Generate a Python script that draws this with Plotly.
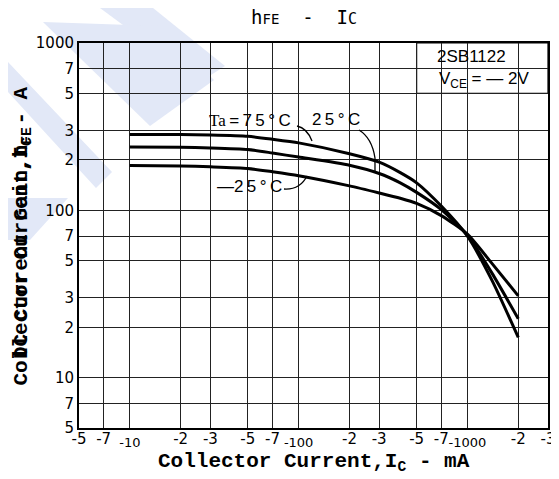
import numpy as np
import plotly.graph_objects as go

# ---------------- data ----------------
ic_ma = [10, 20, 30, 50, 70, 100, 200, 300, 400, 500, 700, 1000, 1400, 2000]
hfe_75 = [284, 284, 282, 277, 266, 253, 218, 194, 168, 146, 106, 70, 38, 17.4]
hfe_25 = [239, 238, 236, 231, 220, 208, 186, 166, 146, 128, 101, 71, 42, 22.5]
hfe_m25 = [185, 184, 182, 178, 170, 161, 140, 127, 118, 110, 93, 72, 48, 30.8]

x_tickvals = [5, 7, 10, 20, 30, 50, 70, 100, 200, 300, 500, 700, 1000, 2000, 3000]
x_ticktext = ["-5", "-7", "-10", "-2", "-3", "-5", "-7", "-100", "-2", "-3",
              "-5", "-7", "-1000", "-2", "-3"]
y_tickvals = [5, 7, 10, 20, 30, 50, 70, 100, 200, 300, 500, 700, 1000]
y_ticktext = ["5", "7", "10", "2", "3", "5", "7", "100", "2", "3", "5", "7", "1000"]

# ---------------- geometry helpers ----------------
OFF = 8  # page body margin
W, H = 559 - OFF, 479 - OFF
ML, MR, MT, MB = 71, 11, 35, 51
PW, PH = W - ML - MR, H - MT - MB
XR = [np.log10(5), np.log10(3000)]
YR = [np.log10(5), np.log10(1000)]


def pp(px, py):
    """window pixel -> paper coords"""
    return (px - OFF - ML) / PW, (H - MB - (py - OFF)) / PH


def dx(v):
    return (np.log10(v) - XR[0]) / (XR[1] - XR[0])


def dy(v):
    return (np.log10(v) - YR[0]) / (YR[1] - YR[0])


fig = go.Figure()
for ys in (hfe_75, hfe_25, hfe_m25):
    fig.add_trace(go.Scatter(x=ic_ma, y=ys, mode="lines",
                             line=dict(color="black", width=3, shape="spline", smoothing=0.6),
                             showlegend=False, hoverinfo="skip"))

shapes = []
# faint watermark bands
wm = "rgb(226,232,247)"
bands = [
    [(100, 8), (153, 8), (225, 66), (200, 82)],
    [(43, 22), (160, 26), (214, 80), (150, 126)],
    [(8, 62), (8, 92), (96, 188), (112, 172)],
    [(8, 198), (68, 198), (30, 240), (8, 240)],
]
for b in bands:
    pts = [pp(*p) for p in b]
    path = "M " + " L ".join(f"{x:.4f},{y:.4f}" for x, y in pts) + " Z"
    shapes.append(dict(type="path", xref="paper", yref="paper", path=path,
                       fillcolor=wm, line=dict(width=0), layer="below"))

# legend box (covers grid)
shapes.append(dict(type="rect", xref="paper", yref="paper",
                   x0=dx(500), x1=1, y0=dy(500), y1=1,
                   fillcolor="white", line=dict(color="black", width=1.2), layer="between"))


def qpath(p0, c, p1, extra=None):
    a, b, d = pp(*p0), pp(*c), pp(*p1)
    s = f"M {a[0]:.4f},{a[1]:.4f} Q {b[0]:.4f},{b[1]:.4f} {d[0]:.4f},{d[1]:.4f}"
    if extra:
        e = pp(*extra)
        s += f" L {e[0]:.4f},{e[1]:.4f}"
    return s


for p in [qpath((297, 126), (307, 128), (312, 141)),
          qpath((359, 130), (372, 138), (375, 158), (375, 172)),
          qpath((284, 189), (300, 190), (307, 176))]:
    shapes.append(dict(type="path", xref="paper", yref="paper", path=p,
                       line=dict(color="black", width=1.3), layer="above"))

ann = []
TS = "\u2009"


def add_text(px, py, text, size, family, **kw):
    x, y = pp(px, py)
    ann.append(dict(x=x, y=y, xref="paper", yref="paper", text=text, showarrow=False,
                    xanchor="center", yanchor="middle",
                    font=dict(size=size, family=family, color="black", **kw)))


add_text(304, 17, "h<span style='font-size:14px'>FE</span>  -  I<span style='font-size:15px'>C</span>",
         19, "DejaVu Sans Mono")
add_text(471, 56, "2SB1122", 17, "Liberation Sans")
add_text(484, 80, "V<sub>CE</sub> = — 2V", 17, "Liberation Sans")
add_text(250, 121, "<span style='font-family:Liberation Serif'>Ta</span>" + TS + "=" + TS + TS.join("75°C"),
         17, "Liberation Sans")
add_text(336, 120, TS.join("25°C"), 17, "Liberation Sans")
add_text(249, 186, "—" + TS.join("25°C"), 17, "Liberation Sans")
add_text(314, 463, "Collector Current,I<sub>C</sub> - mA", 21, "Liberation Mono", weight="bold")

# overlapping y-axis labels
for text, bottom in [("Collector Current,I<sub>C</sub> - A", 388),
                     ("DC Current Gain,h<sub>FE</sub>", 361)]:
    x, y = pp(22, bottom)
    ann.append(dict(x=x, y=y, xref="paper", yref="paper", text=text, showarrow=False,
                    textangle=-90, xanchor="center", yanchor="bottom",
                    font=dict(size=21, family="Liberation Mono", color="black", weight="bold")))

x_ticktext_fmt = [f"<sub><span style='font-size:13px'>{t}</span></sub>" if t in ("-10", "-100", "-1000") else t
                  for t in x_ticktext]

fig.update_layout(
    width=W, height=H, margin=dict(l=ML, r=MR, t=MT, b=MB, autoexpand=False),
    paper_bgcolor="white", plot_bgcolor="rgba(0,0,0,0)",
    shapes=shapes, annotations=ann, showlegend=False,
    xaxis=dict(type="log", range=XR, tickmode="array", tickvals=x_tickvals,
               ticktext=x_ticktext_fmt, showgrid=True, gridcolor="#222", gridwidth=1,
               showline=True, linecolor="black", linewidth=2, mirror=True,
               ticks="", zeroline=False, automargin=False, tickangle=0,
               ticklabelstandoff=-4,
               tickfont=dict(size=15, family="DejaVu Sans", color="black")),
    yaxis=dict(type="log", range=YR, tickmode="array", tickvals=y_tickvals,
               ticktext=y_ticktext, showgrid=True, gridcolor="#222", gridwidth=1,
               showline=True, linecolor="black", linewidth=2, mirror=True,
               ticks="", zeroline=False, automargin=False,
               tickfont=dict(size=15, family="DejaVu Sans", color="black")),
)

fig.write_html("out.html")
